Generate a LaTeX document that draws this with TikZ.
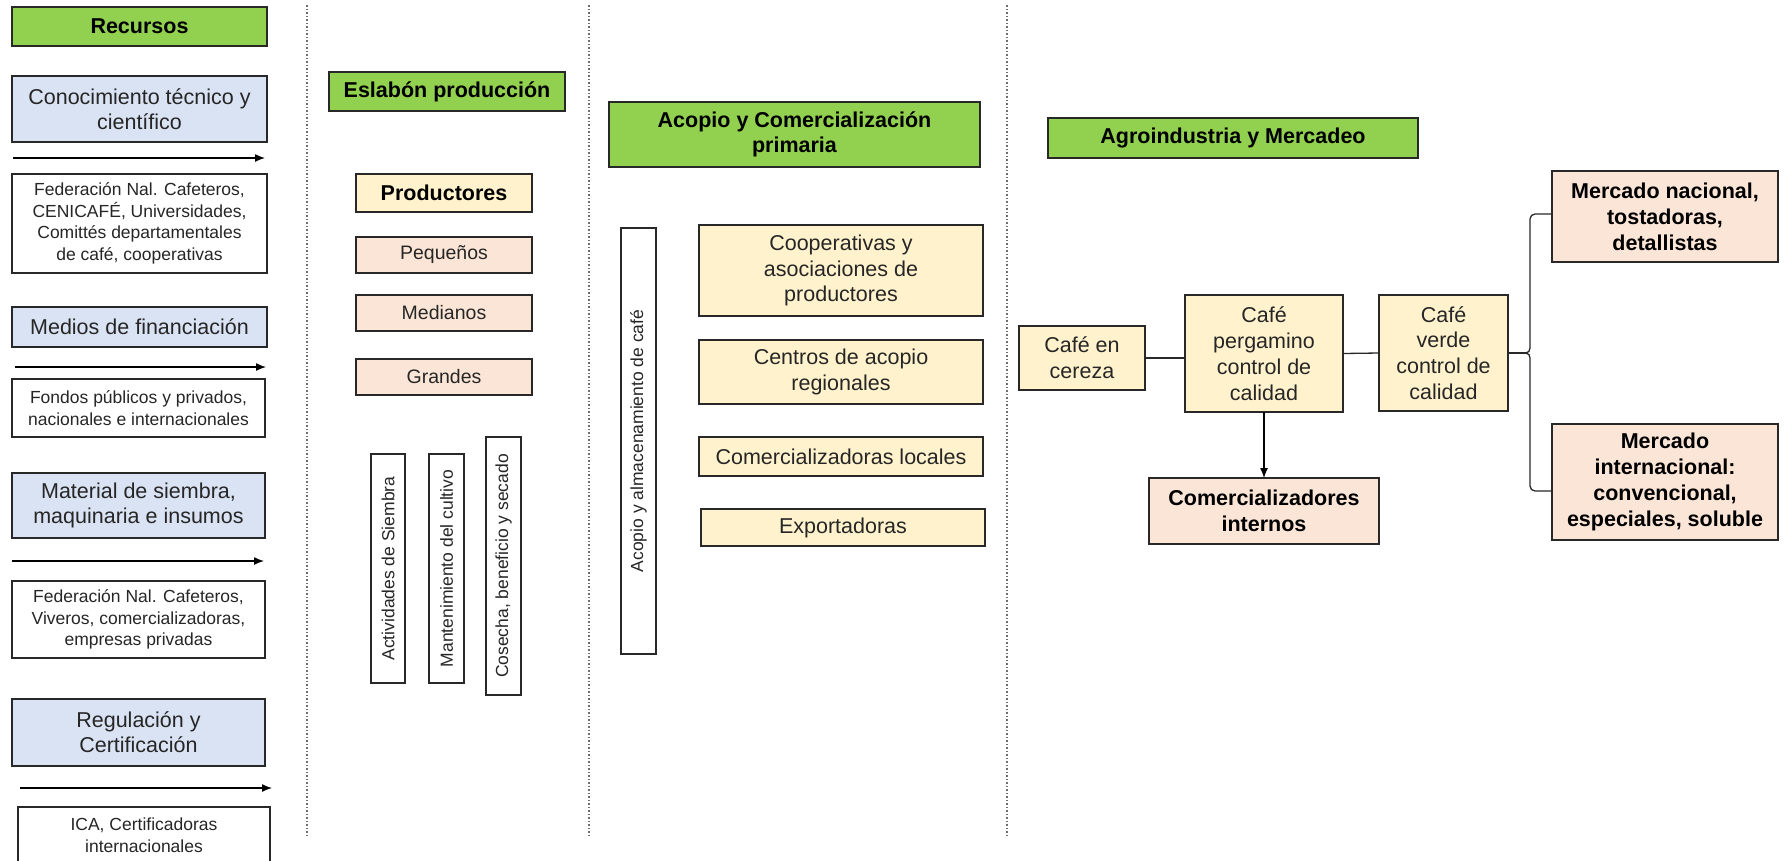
\documentclass[tikz,border=0pt]{standalone}
\usepackage{fontspec}
\setmainfont{Liberation Sans}
\usetikzlibrary{arrows.meta}
\definecolor{hdrgreen}{RGB}{146,208,80}
\definecolor{resblue}{RGB}{218,227,243}
\definecolor{stageyellow}{RGB}{255,242,204}
\definecolor{tierpink}{RGB}{251,229,214}
\definecolor{boxline}{RGB}{40,40,40}
\definecolor{txt}{RGB}{38,38,38}
\definecolor{sepgray}{RGB}{110,110,110}
\tikzset{
  box/.style={draw=boxline, line width=1.8pt, inner sep=0pt, outer sep=0pt, align=center, text=txt},
  hdr/.style={box, fill=hdrgreen, text=black, font=\bfseries\fontsize{21.5}{25.5}\selectfont},
  res/.style={box, fill=resblue, font=\fontsize{21.5}{25}\selectfont},
  note/.style={box, fill=white, line width=1.2pt, font=\fontsize{17.5}{21.7}\selectfont},
  stage/.style={box, fill=stageyellow, font=\fontsize{21.5}{25.8}\selectfont},
  stagebold/.style={stage, text=black, font=\bfseries\fontsize{21.5}{25.5}\selectfont},
  tier/.style={box, fill=tierpink, font=\fontsize{19.5}{23}\selectfont},
  mkt/.style={box, fill=tierpink, text=black, font=\bfseries\fontsize{21.5}{26}\selectfont},
  vbox/.style={box, fill=white, line width=1.2pt, rotate=90, font=\fontsize{17.5}{21}\selectfont},
  flow/.style={draw=black, line width=1.3pt, -{Latex[length=10pt,width=8pt]}},
  link/.style={draw=boxline, line width=1.3pt},
  sep/.style={draw=sepgray, line width=1.3pt, dash pattern=on 1.5pt off 2pt}
}
\begin{document}
\begin{tikzpicture}[x=1pt,y=-1pt]
\useasboundingbox (0,0) rectangle (1786,860);
\fill[white] (0,0) rectangle (1786,860);

% column separators
\draw[sep] (307,5) -- (307,838);
\draw[sep] (589,5) -- (589,838);
\draw[sep] (1007,5) -- (1007,838);

% ---------- Recursos ----------
\node[hdr, minimum width=255pt, minimum height=39pt] (recursos) at (139.5,26.5) {Recursos};

\node[res, minimum width=255pt, minimum height=66pt] (conoc) at (139.5,109) {Conocimiento técnico y\\científico};
\coordinate (a1s) at (13,158); \coordinate (a1e) at (265,158);
\draw[flow] (a1s) -- (a1e);
\node[note, minimum width=255pt, minimum height=99pt] (conocnote) at (139.5,223.5)
  {Federación Nal. Cafeteros,\\CENICAFÉ, Universidades,\\Comittés departamentales\\de café, cooperativas};

\node[res, minimum width=255pt, minimum height=40pt] (financ) at (139.5,327) {Medios de financiación};
\coordinate (a2s) at (15,367); \coordinate (a2e) at (266,367);
\draw[flow] (a2s) -- (a2e);
\node[note, minimum width=253pt, minimum height=58pt] (financnote) at (138.5,408)
  {Fondos públicos y privados,\\nacionales e internacionales};

\node[res, minimum width=253pt, minimum height=65pt] (material) at (138.5,505.5) {Material de siembra,\\maquinaria e insumos};
\coordinate (a3s) at (12,561); \coordinate (a3e) at (264,561);
\draw[flow] (a3s) -- (a3e);
\node[note, minimum width=253pt, minimum height=77pt] (materialnote) at (138.5,619.5)
  {Federación Nal. Cafeteros,\\Viveros, comercializadoras,\\empresas privadas};

\node[res, minimum width=253pt, minimum height=67pt] (regul) at (138.5,732.5) {Regulación y\\Certificación};
\coordinate (a4s) at (20,788); \coordinate (a4e) at (272,788);
\draw[flow] (a4s) -- (a4e);
\node[note, minimum width=252pt, minimum height=57pt] (regulnote) at (144,835.5)
  {ICA, Certificadoras\\internacionales};

% ---------- Eslabón producción ----------
\node[hdr, minimum width=236pt, minimum height=39pt] (prod) at (447,91.5) {Eslabón producción};
\node[stagebold, minimum width=176pt, minimum height=38pt] (productores) at (444,193) {Productores};
\node[tier, minimum width=176pt, minimum height=36pt] (pequenos) at (444,255) {Pequeños};
\node[tier, minimum width=176pt, minimum height=36pt] (medianos) at (444,313) {Medianos};
\node[tier, minimum width=176pt, minimum height=36pt] (grandes) at (444,377) {Grandes};

\node[vbox, minimum width=229pt, minimum height=34pt] (siembra) at (388,568.5) {Actividades de Siembra};
\node[vbox, minimum width=229pt, minimum height=35pt] (manten) at (446.5,568.5) {Mantenimiento del cultivo};
\node[vbox, minimum width=258pt, minimum height=35pt] (cosecha) at (503.5,566) {Cosecha, beneficio y secado};

% ---------- Acopio y Comercialización primaria ----------
\node[hdr, minimum width=371pt, minimum height=65pt] (acopio) at (794.5,134.5) {Acopio y Comercialización\\primaria};
\node[vbox, minimum width=426pt, minimum height=35pt] (almacen) at (638.5,441) {Acopio y almacenamiento de café};
\node[stage, minimum width=284pt, minimum height=91pt] (coop) at (841,270.5) {Cooperativas y\\asociaciones de\\productores};
\node[stage, minimum width=284pt, minimum height=64pt] (centros) at (841,372) {Centros de acopio\\regionales};
\node[stage, minimum width=284pt, minimum height=39pt] (comloc) at (841,456.5) {Comercializadoras locales};
\node[stage, minimum width=284pt, minimum height=37pt] (export) at (843,527.5) {Exportadoras};

% ---------- Agroindustria y Mercadeo ----------
\node[hdr, minimum width=370pt, minimum height=40pt] (agro) at (1233,138) {Agroindustria y Mercadeo};
\node[stage, minimum width=126pt, minimum height=64pt] (cereza) at (1082,358) {Café en\\cereza};
\node[stage, minimum width=158pt, minimum height=117pt] (pergamino) at (1264,353.5) {Café\\pergamino\\control de\\calidad};
\node[stage, minimum width=129pt, minimum height=116pt] (verde) at (1443.5,353) {Café\\verde\\control de\\calidad};
\node[mkt, minimum width=230pt, minimum height=66pt] (internos) at (1264,511) {Comercializadores\\internos};
\node[mkt, minimum width=226pt, minimum height=91pt] (nacional) at (1665,216.5) {Mercado nacional,\\tostadoras,\\detallistas};
\node[mkt, minimum width=226pt, minimum height=116pt] (internac) at (1665,482) {Mercado\\internacional:\\convencional,\\especiales, soluble};

\draw[link] (cereza.east) -- (cereza.east -| pergamino.west);
\draw[link] (pergamino.east) -- (verde.west);
\draw[flow] (pergamino.south) -- (internos.north);

% bracket from green coffee to both markets
\coordinate (tip) at (1526,353);
\coordinate (topend) at (1552,214);
\coordinate (botend) at (1552,491);
\draw[link] (verde.east) -- (tip);
\draw[link] (topend) -- (1535,214) to[out=180,in=90] (1530,219) -- (1530,348)
  to[out=-90,in=0] (tip) to[out=0,in=90] (1530,358) -- (1530,486)
  to[out=-90,in=180] (1535,491) -- (botend);
\end{tikzpicture}
\end{document}
